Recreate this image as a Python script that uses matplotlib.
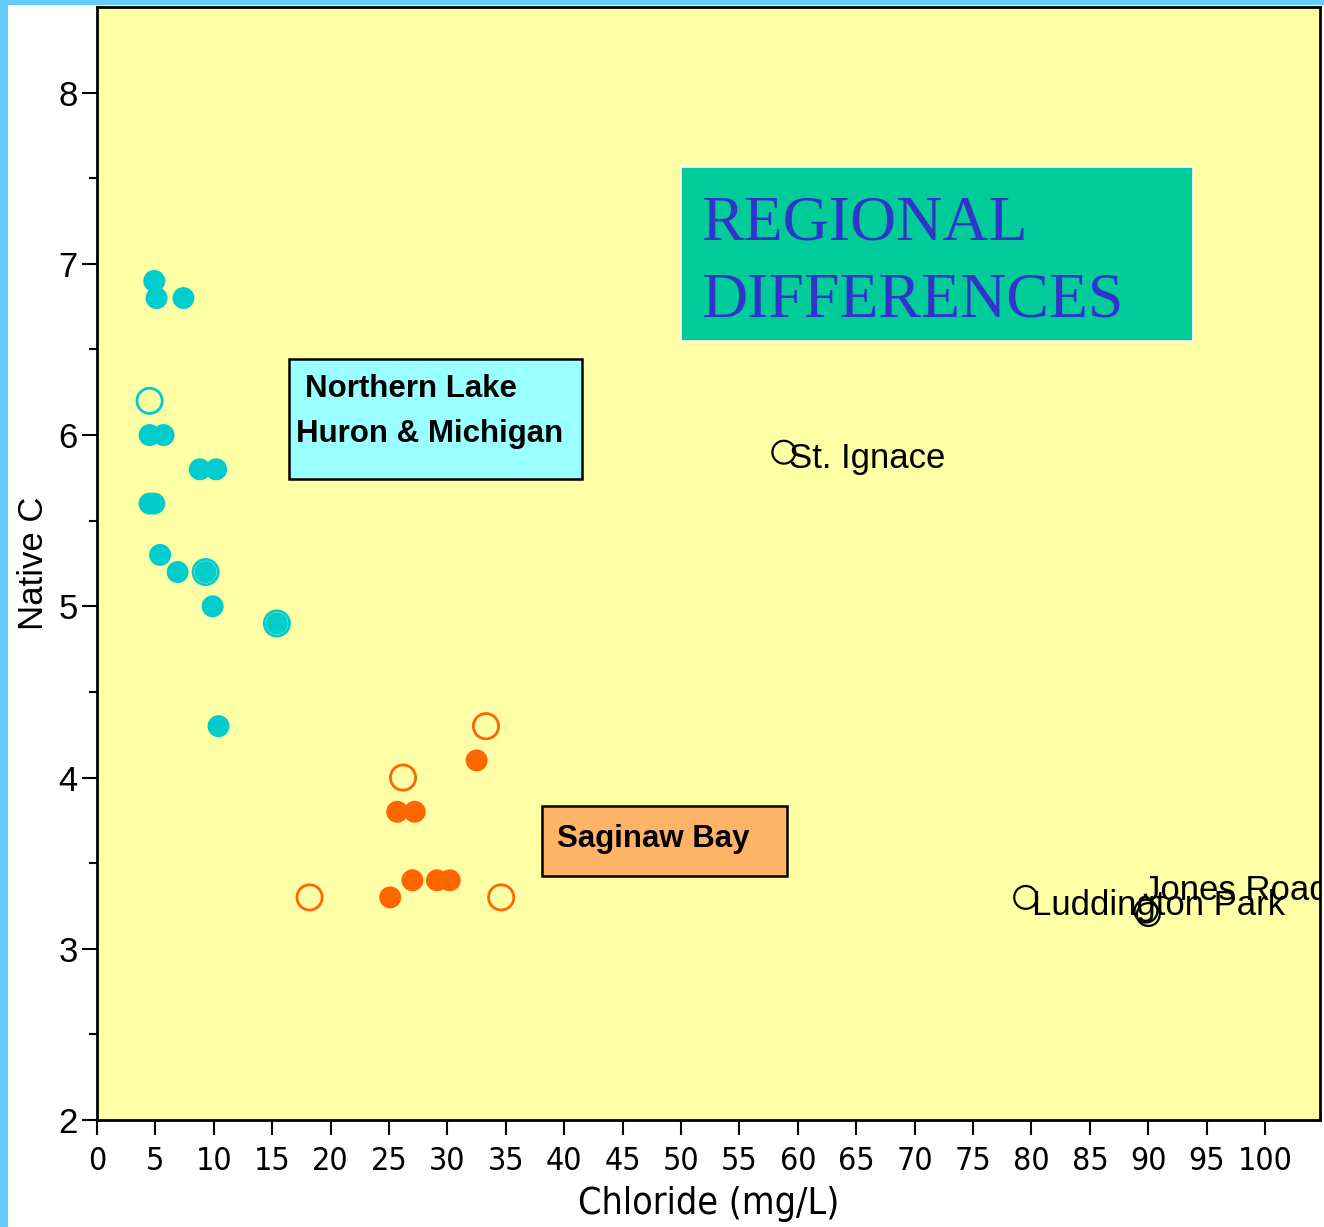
import matplotlib
matplotlib.use("Agg")
import matplotlib.pyplot as plt
from matplotlib.patches import Rectangle
from matplotlib import font_manager

# data
north_x = [4.9, 5.1, 7.4, 4.5, 5.7, 8.8, 10.2, 4.5, 4.9, 5.4, 6.9, 9.3, 9.9, 15.4, 10.4]
north_y = [6.9, 6.8, 6.8, 6.0, 6.0, 5.8, 5.8, 5.6, 5.6, 5.3, 5.2, 5.2, 5.0, 4.9, 4.3]
north_open_x = [4.5, 9.3, 15.4]
north_open_y = [6.2, 5.2, 4.9]

sag_x = [32.5, 25.7, 27.2, 27.0, 29.1, 30.2, 25.1]
sag_y = [4.1, 3.8, 3.8, 3.4, 3.4, 3.4, 3.3]
sag_open_x = [33.3, 26.2, 18.2, 34.6]
sag_open_y = [4.3, 4.0, 3.3, 3.3]

site_names = ["St. Ignace", "Luddington Park", "Jones Road"]
site_x = [58.8, 79.5, 90.0]
site_y = [5.9, 3.3, 3.2]
site_offsets = [(3.6, -11.5), (4.3, -13), (-3.6, 10.8)]
extra_x = [89.8]
extra_y = [3.22]

xticks = list(range(0, 101, 5))
yticks = [2, 3, 4, 5, 6, 7, 8]

sans = "Liberation Sans"
serif = "Liberation Serif"

# condensed regular face for the x axis if one is installed
names = {f.name for f in font_manager.fontManager.ttflist}
cond = [f for f in font_manager.fontManager.ttflist
        if ("Narrow" in f.name or f.stretch in ("condensed", "semi-condensed"))
        and f.weight in (400, "normal", "regular", "book") and f.style == "normal"]
cond.sort(key=lambda f: ("Sans" not in f.name, "Mono" in f.name))
if "Liberation Sans Narrow" in names:
    narrow = font_manager.FontProperties(family="Liberation Sans Narrow")
    tick_size, xlab_size = 23, 30
elif cond:
    narrow = font_manager.FontProperties(fname=cond[0].fname)
    tick_size, xlab_size = 23, 27
else:
    narrow = font_manager.FontProperties(family=sans)
    tick_size, xlab_size = 21, 26

fig = plt.figure(figsize=(13.24, 12.27), dpi=100)
fig.patch.set_facecolor("#66CCFF")
fig.add_artist(Rectangle((8 / 1324, 0), 1, 1 - 5 / 1227, transform=fig.transFigure,
                         facecolor="white", edgecolor="none", zorder=0))

ax = fig.add_axes([97 / 1324, 107 / 1227, 1223 / 1324, 1113 / 1227])
ax.set_facecolor("#FFFFA6")
ax.set_xlim(0, 104.7)
ax.set_ylim(2, 8.5)

cyan = "#00CCCC"
orange = "#FF6600"
ax.scatter(north_x, north_y, s=250, color=cyan, edgecolors="none", zorder=3)
ax.scatter(north_open_x, north_open_y, s=330, facecolors="none", edgecolors=cyan,
           linewidths=2, zorder=4)
ax.scatter(sag_x, sag_y, s=250, color=orange, edgecolors="none", zorder=3)
ax.scatter(sag_open_x, sag_open_y, s=330, facecolors="none", edgecolors=orange,
           linewidths=2, zorder=4)
ax.scatter(site_x + extra_x, site_y + extra_y, s=270, facecolors="none", edgecolors="black",
           linewidths=1.6, zorder=4)

for name, x, y, off in zip(site_names, site_x, site_y, site_offsets):
    ax.annotate(name, (x, y), xytext=off, textcoords="offset points", fontsize=25,
                family=sans, va="baseline", ha="left", annotation_clip=False,
                clip_on=True, zorder=5)

ax.set_xticks(xticks)
ax.set_yticks(yticks)
ax.set_yticks([2.5, 3.5, 4.5, 5.5, 6.5, 7.5], minor=True)
ax.tick_params(axis="x", length=11, width=1.5, pad=8)
ax.tick_params(axis="y", which="major", length=11, width=1.5, pad=3, labelsize=25)
ax.tick_params(axis="y", which="minor", length=6, width=1.5)
for lab in ax.get_xticklabels():
    lab.set_fontproperties(narrow)
    lab.set_fontsize(tick_size)
for lab in ax.get_yticklabels():
    lab.set_family(sans)
for sp in ax.spines.values():
    sp.set_linewidth(2)

ax.set_xlabel("Chloride (mg/L)", fontproperties=narrow, labelpad=6)
ax.xaxis.label.set_fontsize(xlab_size)
ax.set_ylabel("Native C", fontsize=25, family=sans, labelpad=6)

# text boxes
ax.add_patch(Rectangle((0.157, 0.5759), 0.2396, 0.1078, transform=ax.transAxes,
                       facecolor="#99FFFF", edgecolor="black", linewidth=1.8, zorder=5))
ax.text(0.1701, 0.6496, "Northern Lake", transform=ax.transAxes, fontsize=22.5,
        weight="bold", family=sans, va="baseline", zorder=6)
ax.text(0.1627, 0.6092, "Huron & Michigan", transform=ax.transAxes, fontsize=22.5,
        weight="bold", family=sans, va="baseline", zorder=6)

ax.add_patch(Rectangle((0.3639, 0.2192), 0.2003, 0.0629, transform=ax.transAxes,
                       facecolor="#FFB366", edgecolor="black", linewidth=1.8, zorder=5))
ax.text(0.3761, 0.2453, "Saginaw Bay", transform=ax.transAxes, fontsize=22.5,
        weight="bold", family=sans, va="baseline", zorder=6)

ax.add_patch(Rectangle((0.4775, 0.6999), 0.4186, 0.1563, transform=ax.transAxes,
                       facecolor="#00CC99", edgecolor="white", linewidth=1.2, zorder=5))
ax.text(0.4939, 0.7907, "REGIONAL", transform=ax.transAxes, fontsize=46,
        family=serif, color="#3333CC", va="baseline", zorder=6)
ax.text(0.4939, 0.7215, "DIFFERENCES", transform=ax.transAxes, fontsize=46,
        family=serif, color="#3333CC", va="baseline", zorder=6)

fig.savefig("out.png", dpi=100, facecolor=fig.get_facecolor())
